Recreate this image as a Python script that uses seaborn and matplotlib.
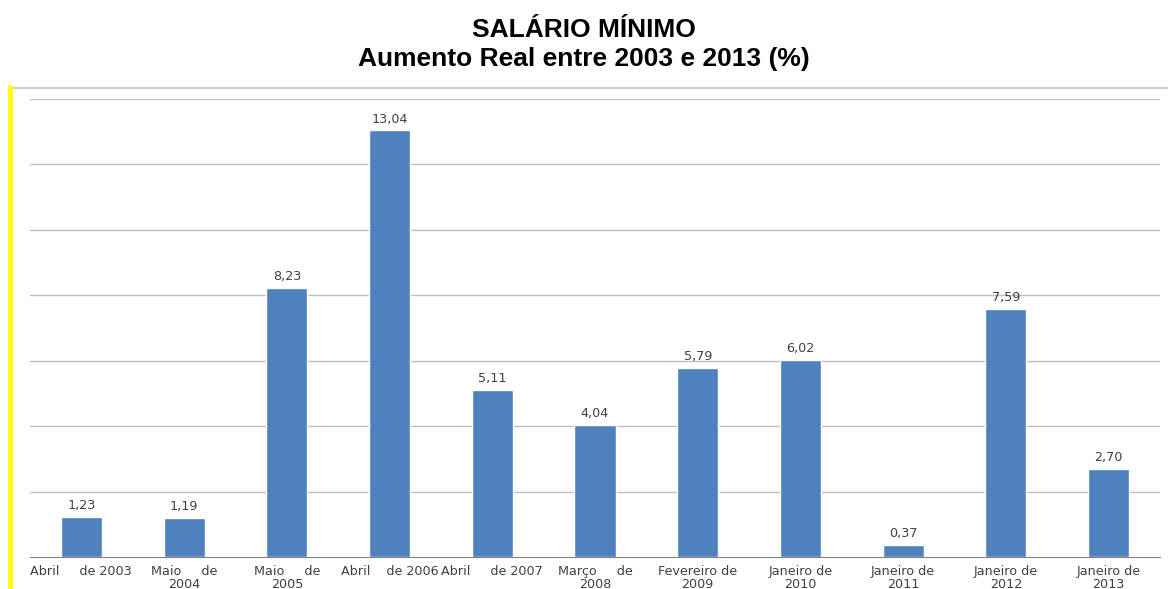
import matplotlib
matplotlib.use("Agg")
import matplotlib.pyplot as plt
import seaborn as sns
import pandas as pd
import numpy as np
from matplotlib.lines import Line2D
from matplotlib import font_manager as fm

categories = ["Abril     de 2003", "Maio     de\n2004", "Maio     de\n2005", "Abril    de 2006",
              "Abril     de 2007", "Março     de\n2008", "Fevereiro de\n2009", "Janeiro de\n2010",
              "Janeiro de\n2011", "Janeiro de\n2012", "Janeiro de\n2013"]
values = [1.23, 1.19, 8.23, 13.04, 5.11, 4.04, 5.79, 6.02, 0.37, 7.59, 2.70]
value_labels = ["1,23", "1,19", "8,23", "13,04", "5,11", "4,04", "5,79", "6,02", "0,37", "7,59", "2,70"]

df = pd.DataFrame({"cat": categories, "val": values})

sns.set_style("white")
plt.rcParams['font.family'] = ['DejaVu Sans']

# pick regular-width Liberation Sans Bold explicitly
title_fp = None
for f in fm.fontManager.ttflist:
    if f.name == "Liberation Sans" and f.weight in (700, "bold") and f.style == "normal" \
            and "Narrow" not in f.fname:
        title_fp = fm.FontProperties(fname=f.fname)
        break
if title_fp is None:
    title_fp = fm.FontProperties(family="Liberation Sans", weight="bold")
title_fp.set_size(19)

W, H = 1168, 589
fig = plt.figure(figsize=(W/100, H/100), dpi=100)
ax = fig.add_axes([30/W, (H-557)/H, (1160-30)/W, (557-99)/H])

sns.barplot(data=df, x="cat", y="val", color="#4F81BD", saturation=1, width=0.4, ax=ax)

ax.set_ylim(0, 14)
ax.set_xlim(-0.5, len(categories)-0.5)
ax.set_yticks(np.arange(2, 15, 2))
ax.set_yticklabels([])
ax.tick_params(axis='y', length=0)
ax.yaxis.grid(True, color="#BFBFBF", linewidth=1)
ax.set_axisbelow(True)
for s in ["top", "right", "left"]:
    ax.spines[s].set_visible(False)
ax.spines["bottom"].set_color("#808080")
ax.set_xlabel("")
ax.set_ylabel("")

ax.set_xticks(range(len(categories)))
ax.set_xticklabels(categories, fontsize=9.2, color="#404040", linespacing=0.95)
ax.tick_params(axis='x', which='major', length=0, pad=6)
ax.set_xticks(np.arange(-0.5, len(categories), 1), minor=True)
ax.tick_params(axis='x', which='minor', length=5, color="#808080", direction="out")

for i, (v, lab) in enumerate(zip(values, value_labels)):
    ax.annotate(lab, (i, v), xytext=(0, 3.5), textcoords="offset points",
                ha="center", va="bottom", fontsize=9.2, color="#404040")

fig.text(0.5, 1-30/H, "SALÁRIO MÍNIMO", ha="center", va="center", color="black",
         fontproperties=title_fp)
fig.text(0.5, 1-59/H, "Aumento Real entre 2003 e 2013 (%)", ha="center", va="center", color="black",
         fontproperties=title_fp)

fig.add_artist(Line2D([11/W, 1.0], [1-87.5/H, 1-87.5/H], transform=fig.transFigure,
                      color="#D0D0D0", linewidth=1.5))
fig.add_artist(Line2D([9.5/W, 9.5/W], [0, 1-87/H], transform=fig.transFigure,
                      color="#FFFF00", linewidth=3.5))

fig.savefig("out.png", dpi=100)
